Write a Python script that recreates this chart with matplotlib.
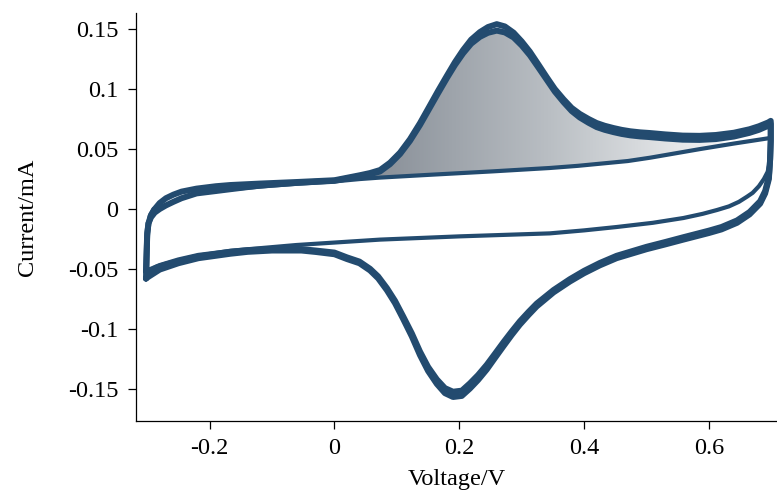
import numpy as np
import matplotlib.pyplot as plt
from matplotlib.colors import LinearSegmentedColormap

plt.rcParams['font.family'] = ['Liberation Serif', 'DejaVu Serif']
plt.rcParams['axes.unicode_minus'] = False

# CV with redox couple, two cycles: anodic (forward) sweep
fwd_v = [-0.302, -0.301, -0.300, -0.298, -0.294, -0.288, -0.280, -0.270, -0.258, -0.245,
         -0.221, -0.190, -0.167, -0.120, -0.061, 0.000, 0.041, 0.057, 0.073, 0.089,
         0.105, 0.121, 0.137, 0.153, 0.166, 0.180, 0.193, 0.206, 0.219, 0.233,
         0.246, 0.260, 0.273, 0.287, 0.300, 0.313, 0.327, 0.340, 0.353, 0.367,
         0.380, 0.393, 0.407, 0.420, 0.433, 0.447, 0.460, 0.474, 0.490, 0.504,
         0.530, 0.558, 0.585, 0.611, 0.640, 0.665, 0.680, 0.695, 0.699]
cyc1_fwd_i = [-0.058, -0.040, -0.022, -0.012, -0.005, 0.000, 0.005, 0.009, 0.012, 0.0145,
              0.017, 0.019, 0.020, 0.0212, 0.0225, 0.0240, 0.0282, 0.0300, 0.0325, 0.0386,
              0.0470, 0.0582, 0.0716, 0.0864, 0.0985, 0.1110, 0.1224, 0.1325, 0.1412, 0.1475,
              0.1517, 0.1541, 0.1522, 0.1470, 0.1397, 0.1312, 0.1203, 0.1100, 0.1001, 0.0915,
              0.0843, 0.0793, 0.0751, 0.0717, 0.0694, 0.0675, 0.0660, 0.0648, 0.0639, 0.0634,
              0.0622, 0.0612, 0.0610, 0.0617, 0.0636, 0.0665, 0.0690, 0.0722, 0.0735]
cyc2_fwd_i = [-0.052, -0.036, -0.020, -0.012, -0.007, -0.003, 0.000, 0.003, 0.006, 0.009,
              0.013, 0.015, 0.0165, 0.0195, 0.0218, 0.0235, 0.0274, 0.0290, 0.0313, 0.0374,
              0.0458, 0.0568, 0.0700, 0.0846, 0.0965, 0.1090, 0.1200, 0.1297, 0.1378, 0.1435,
              0.1469, 0.1487, 0.1472, 0.1430, 0.1363, 0.1282, 0.1177, 0.1078, 0.0979, 0.0891,
              0.0817, 0.0763, 0.0719, 0.0683, 0.0660, 0.0641, 0.0626, 0.0614, 0.0605, 0.0600,
              0.0588, 0.0578, 0.0576, 0.0583, 0.0604, 0.0635, 0.0660, 0.0694, 0.0710]

# cathodic (reverse) sweep
rev_v = [0.699, 0.699, 0.698, 0.696, 0.690, 0.682, 0.665, 0.645, 0.620, 0.600,
         0.559, 0.530, 0.500, 0.452, 0.425, 0.400, 0.377, 0.351, 0.324, 0.311,
         0.297, 0.284, 0.271, 0.257, 0.244, 0.230, 0.217, 0.204, 0.190, 0.177,
         0.164, 0.150, 0.137, 0.124, 0.110, 0.097, 0.084, 0.070, 0.057, 0.040,
         0.020, 0.000, -0.030, -0.053, -0.100, -0.139, -0.167, -0.218, -0.250, -0.280,
         -0.298, -0.302]
cyc1_rev_i = [0.0735, 0.058, 0.042, 0.025, 0.013, 0.0045, -0.0045, -0.0115, -0.017, -0.020,
              -0.0255, -0.0295, -0.0335, -0.041, -0.047, -0.0535, -0.0605, -0.0695, -0.0812, -0.0883,
              -0.0964, -0.1050, -0.1142, -0.1243, -0.1338, -0.1426, -0.1497, -0.1558, -0.1567, -0.1535,
              -0.1458, -0.1350, -0.1218, -0.1063, -0.0916, -0.0785, -0.0677, -0.0578, -0.0512, -0.0452,
              -0.0417, -0.0377, -0.0358, -0.0346, -0.0346, -0.0357, -0.0373, -0.0410, -0.0452, -0.0505,
              -0.0565, -0.058]
cyc2_rev_i = [0.0710, 0.057, 0.041, 0.027, 0.015, 0.0065, -0.0025, -0.0095, -0.015, -0.018,
              -0.0235, -0.0275, -0.0315, -0.039, -0.045, -0.0515, -0.0585, -0.0675, -0.0788, -0.0857,
              -0.0936, -0.1020, -0.1108, -0.1207, -0.1298, -0.1384, -0.1453, -0.1514, -0.1523, -0.1493,
              -0.1420, -0.1316, -0.1188, -0.1037, -0.0894, -0.0765, -0.0659, -0.0562, -0.0498, -0.0438,
              -0.0403, -0.0363, -0.0346, -0.0334, -0.0334, -0.0343, -0.0357, -0.0390, -0.0428, -0.0475,
              -0.0515, -0.052]

# background (capacitive) loop
bg_fwd_v = [-0.300, -0.300, -0.299, -0.296, -0.290, -0.280, -0.269, -0.245, -0.221, -0.190,
            -0.167, -0.100, -0.061, 0.000, 0.041, 0.073, 0.148, 0.254, 0.345, 0.390,
            0.470, 0.506, 0.586, 0.639, 0.693, 0.698]
bg_fwd_i = [-0.052, -0.035, -0.018, -0.006, 0.000, 0.0015, 0.0033, 0.009, 0.013, 0.015,
            0.0165, 0.0195, 0.021, 0.023, 0.025, 0.0262, 0.0284, 0.0314, 0.0342, 0.0360,
            0.0400, 0.0428, 0.0500, 0.0545, 0.0588, 0.0592]
bg_rev_v = [0.698, 0.698, 0.697, 0.694, 0.688, 0.680, 0.670, 0.661, 0.648, 0.632,
            0.613, 0.590, 0.559, 0.510, 0.452, 0.400, 0.345, 0.200, 0.073, -0.061,
            -0.167, -0.220, -0.248, -0.270, -0.285, -0.296, -0.300]
bg_rev_i = [0.0592, 0.050, 0.038, 0.031, 0.025, 0.019, 0.0135, 0.0103, 0.006, 0.0022,
            -0.0008, -0.004, -0.0075, -0.0115, -0.0150, -0.0178, -0.0203, -0.0228, -0.0255, -0.0300,
            -0.0348, -0.039, -0.0425, -0.0455, -0.048, -0.051, -0.052]

x_ticks = [-0.2, 0, 0.2, 0.4, 0.6]
x_labels = ['-0.2', '0', '0.2', '0.4', '0.6']
y_ticks = [-0.15, -0.1, -0.05, 0, 0.05, 0.1, 0.15]
y_labels = ['-0.15', '-0.1', '-0.05', '0', '0.05', '0.1', '0.15']

line_color = '#234b6f'

fig = plt.figure(figsize=(7.77, 4.95), dpi=100)
ax = fig.add_axes([0.175, 0.1495, 0.825, 0.824])

# gradient-shaded oxidation peak area above the background line
grid = np.linspace(0.045, 0.625, 300)
upper = np.interp(grid, fwd_v, cyc2_fwd_i)
lower = np.interp(grid, bg_fwd_v, bg_fwd_i)
area = ax.fill_between(grid, lower, upper, where=upper >= lower,
                       facecolor='none', edgecolor='none')
shade = LinearSegmentedColormap.from_list('shade', ['#858c95', '#b8bdc2', '#f4f5f6'])
grad = np.linspace(0, 1, 256).reshape(1, -1)
im = ax.imshow(grad, extent=[0.045, 0.625, 0.015, 0.16], cmap=shade,
               aspect='auto', origin='lower', zorder=1, interpolation='bicubic')
im.set_clip_path(area.get_paths()[0], transform=ax.transData)

kw = dict(color=line_color, solid_joinstyle='round', solid_capstyle='round', zorder=3)
ax.plot(bg_fwd_v + bg_rev_v, bg_fwd_i + bg_rev_i, lw=3.0, **kw)
ax.plot(fwd_v + rev_v, cyc1_fwd_i + cyc1_rev_i, lw=4.3, **kw)
ax.plot(fwd_v + rev_v, cyc2_fwd_i + cyc2_rev_i, lw=4.3, **kw)

ax.set_xlim(-0.318, 0.709)
ax.set_ylim(-0.1767, 0.1633)
ax.set_xticks(x_ticks)
ax.set_xticklabels(x_labels)
ax.set_yticks(y_ticks)
ax.set_yticklabels(y_labels)

for side in ['top', 'right']:
    ax.spines[side].set_visible(False)
for side in ['left', 'bottom']:
    ax.spines[side].set_linewidth(0.9)
ax.tick_params(direction='out', length=5.5, width=0.9, labelsize=17.5, pad=7)

ax.set_xlabel('Voltage/V', fontsize=17.5, labelpad=7)
ax.set_ylabel('Current/mA', fontsize=17.5, labelpad=22)

fig.savefig('out.png', dpi=100)
